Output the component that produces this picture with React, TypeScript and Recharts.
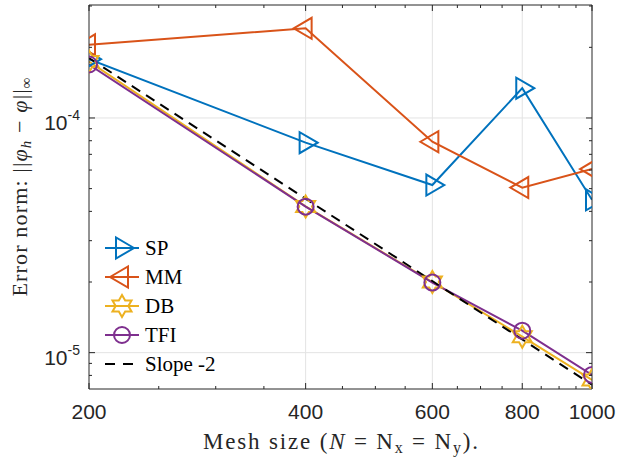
import { LineChart, Line, XAxis, YAxis, ReferenceLine, Legend } from "recharts"

// mesh sizes and error norms
const MESH = [200, 400, 600, 800, 1000]
const SP = [1.78e-4, 7.85e-5, 5.18e-5, 1.34e-4, 4.48e-5]
const MM = [2.05e-4, 2.41e-4, 7.92e-5, 5.05e-5, 6.06e-5]
const DB = [1.74e-4, 4.2e-5, 2.0e-5, 1.17e-5, 7.65e-6]
const TFI = [1.69e-4, 4.19e-5, 1.99e-5, 1.24e-5, 8.04e-6]
const SLOPE = [1.8e-4, null, null, null, 7.3e-6]

const X_TICKS = [200, 400, 600, 800, 1000]
const X_MINOR = [250, 300, 350, 450, 500, 550, 650, 700, 750, 850, 900, 950]
const Y_TICKS = [1e-5, 1e-4]
const Y_EXP = ["-5", "-4"]
const Y_MINOR = [8e-6, 9e-6, 2e-5, 3e-5, 4e-5, 5e-5, 6e-5, 7e-5, 8e-5, 9e-5, 2e-4, 3e-4]

const AXIS = "#262626"
const GRID = "#e3e3e3"
const SANS = "'Liberation Sans', Arial, Helvetica, sans-serif"
const SERIF = "'Liberation Serif', 'Times New Roman', serif"

const SERIES = [
  { key: "sp", name: "SP", color: "#0072BD", marker: "right", values: SP },
  { key: "mm", name: "MM", color: "#D95319", marker: "left", values: MM },
  { key: "db", name: "DB", color: "#EDB120", marker: "star", values: DB },
  { key: "tfi", name: "TFI", color: "#7E2F8E", marker: "circle", values: TFI },
]

const data = MESH.map((n, i) => ({
  n,
  sp: SP[i],
  mm: MM[i],
  db: DB[i],
  tfi: TFI[i],
  slope: SLOPE[i],
}))

function markerShape(kind: string, cx: number, cy: number, color: string, key?: string) {
  const common = { fill: "none", stroke: color, strokeWidth: 2, strokeLinejoin: "miter" as const }
  if (kind === "right") {
    return <path key={key} d={`M${cx + 12},${cy} L${cx - 6},${cy - 10.5} L${cx - 6},${cy + 10.5} Z`} {...common} />
  }
  if (kind === "left") {
    return <path key={key} d={`M${cx - 12},${cy} L${cx + 6},${cy - 10.5} L${cx + 6},${cy + 10.5} Z`} {...common} />
  }
  if (kind === "star") {
    const pts: string[] = []
    for (let k = 0; k < 12; k++) {
      const r = k % 2 === 0 ? 11 : 11 / Math.sqrt(3)
      const a = -Math.PI / 2 + (k * Math.PI) / 6
      pts.push(`${cx + r * Math.cos(a)},${cy + r * Math.sin(a)}`)
    }
    return <polygon key={key} points={pts.join(" ")} {...common} />
  }
  return <circle key={key} cx={cx} cy={cy} r={8} {...common} />
}

const makeDot = (kind: string, color: string) => (p: any) => {
  if (p.cx == null || p.cy == null || p.value == null) return <g key={`e-${kind}-${p.index}`} />
  return markerShape(kind, p.cx, p.cy, color, `${kind}-${p.index}`)
}

const BottomTick = (p: any) => {
  const v = p.payload.value
  const major = X_TICKS.includes(v)
  return (
    <g>
      <line x1={p.x} x2={p.x} y1={p.y} y2={p.y - (major ? 6 : 3)} stroke={AXIS} />
      {major && (
        <text x={p.x} y={p.y + 30} textAnchor="middle" fontSize={21} fontFamily={SANS} fontWeight={400} fill={AXIS} stroke="none">
          {v}
        </text>
      )}
    </g>
  )
}

const TopTick = (p: any) => {
  const major = X_TICKS.includes(p.payload.value)
  return <line x1={p.x} x2={p.x} y1={p.y} y2={p.y + (major ? 6 : 3)} stroke={AXIS} />
}

const LeftTick = (p: any) => {
  const v = p.payload.value
  const idx = Y_TICKS.indexOf(v)
  const major = idx >= 0
  return (
    <g>
      <line x1={p.x} x2={p.x + (major ? 6 : 3)} y1={p.y} y2={p.y} stroke={AXIS} />
      {major && (
        <text x={p.x - 9} y={p.y + 12} textAnchor="end" fontSize={21} fontFamily={SANS} fontWeight={400} fill={AXIS} stroke="none">
          10<tspan fontSize={14} dy={-10}>{Y_EXP[idx]}</tspan>
        </text>
      )}
    </g>
  )
}

const RightTick = (p: any) => {
  const major = Y_TICKS.includes(p.payload.value)
  return <line x1={p.x} x2={p.x - (major ? 6 : 3)} y1={p.y} y2={p.y} stroke={AXIS} />
}

const XLabel = (props: any) => {
  const vb = props.viewBox
  const cx = vb.x + vb.width / 2
  return (
    <text x={cx} y={vb.y + 60} textAnchor="middle" fontSize={23} fontFamily={SERIF} fill={AXIS} stroke="none" textLength={275} lengthAdjust="spacing">
      {"Mesh size ("}<tspan fontStyle="italic">N</tspan>{" = N"}<tspan fontSize={16} dy={4}>x</tspan><tspan dy={-4}>{" = N"}</tspan><tspan fontSize={16} dy={4}>y</tspan><tspan dy={-4}>{")."}</tspan>
    </text>
  )
}

const YLabel = (props: any) => {
  const vb = props.viewBox
  const cx = 27
  const cy = vb.y + vb.height / 2 - 10
  return (
    <text x={cx} y={cy} transform={`rotate(-90, ${cx}, ${cy})`} textAnchor="middle" fontSize={22} fontFamily={SERIF} fill={AXIS} stroke="none" textLength={219} lengthAdjust="spacing">
      {"Error norm: ||"}<tspan fontStyle="italic">φ</tspan><tspan fontStyle="italic" fontSize={15} dy={4}>h</tspan><tspan dy={-4}>{" − "}</tspan><tspan fontStyle="italic">φ</tspan>{"||"}<tspan fontSize={15} dy={4}>∞</tspan>
    </text>
  )
}

const renderLegend = () => {
  const rows = [...SERIES.map((s) => ({ name: s.name, color: s.color, marker: s.marker, dashed: false })), { name: "Slope -2", color: "#000000", marker: "", dashed: true }]
  return (
    <svg width={150} height={150}>
      {rows.map((r, i) => {
        const y = 17 + i * 29
        return (
          <g key={r.name}>
            <line x1={5} x2={39} y1={y} y2={y} stroke={r.color} strokeWidth={2} strokeDasharray={r.dashed ? "10 8" : undefined} />
            {r.marker && markerShape(r.marker, 22, y, r.color)}
            <text x={45} y={y + 7} fontSize={21} fontFamily={SERIF} fontWeight={400} fill="#000" stroke="none">{r.name}</text>
          </g>
        )
      })}
    </svg>
  )
}

export default function App() {
  return (
    <div style={{ position: "absolute", left: 0, top: 0, background: "#fff" }}>
      <LineChart width={618} height={459} data={data} margin={{ top: 4, right: 25, bottom: 0, left: 0 }}>
        <XAxis
          dataKey="n"
          type="number"
          scale="log"
          domain={[200, 1000]}
          allowDataOverflow
          ticks={[...X_TICKS, ...X_MINOR]}
          interval={0}
          tickSize={0}
          tickMargin={0}
          tickLine={false}
          tick={BottomTick}
          height={70}
          axisLine={{ stroke: AXIS }}
          label={{ content: XLabel }}
        />
        <XAxis
          xAxisId="top"
          dataKey="n"
          orientation="top"
          type="number"
          scale="log"
          domain={[200, 1000]}
          allowDataOverflow
          ticks={[...X_TICKS, ...X_MINOR]}
          interval={0}
          tickSize={0}
          tickMargin={0}
          tickLine={false}
          tick={TopTick}
          height={1}
          axisLine={{ stroke: AXIS }}
        />
        <YAxis
          type="number"
          scale="log"
          domain={[7e-6, 3.03e-4]}
          allowDataOverflow
          ticks={[...Y_TICKS, ...Y_MINOR]}
          interval={0}
          tickSize={0}
          tickMargin={0}
          tickLine={false}
          tick={LeftTick}
          width={89}
          axisLine={{ stroke: AXIS }}
          label={{ content: YLabel }}
        />
        <YAxis
          yAxisId="right"
          orientation="right"
          type="number"
          scale="log"
          domain={[7e-6, 3.03e-4]}
          allowDataOverflow
          ticks={[...Y_TICKS, ...Y_MINOR]}
          interval={0}
          tickSize={0}
          tickMargin={0}
          tickLine={false}
          tick={RightTick}
          width={1}
          axisLine={{ stroke: AXIS }}
        />
        {X_TICKS.slice(1, -1).map((v) => (
          <ReferenceLine key={`gx-${v}`} x={v} stroke={GRID} strokeWidth={1} />
        ))}
        {Y_TICKS.map((v) => (
          <ReferenceLine key={`gy-${v}`} y={v} stroke={GRID} strokeWidth={1} />
        ))}
        {SERIES.map((s) => (
          <Line
            key={s.key}
            dataKey={s.key}
            type="linear"
            stroke={s.color}
            strokeWidth={2}
            dot={makeDot(s.marker, s.color)}
            activeDot={false}
            isAnimationActive={false}
          />
        ))}
        <Line
          dataKey="slope"
          type="linear"
          stroke="#000"
          strokeWidth={2}
          strokeDasharray="10 7"
          connectNulls
          dot={false}
          activeDot={false}
          isAnimationActive={false}
        />
        <Legend
          content={renderLegend}
          layout="vertical"
          align="center"
          verticalAlign="middle"
          wrapperStyle={{ left: 100, top: 231, width: 150, height: 150 }}
        />
      </LineChart>
    </div>
  )
}
